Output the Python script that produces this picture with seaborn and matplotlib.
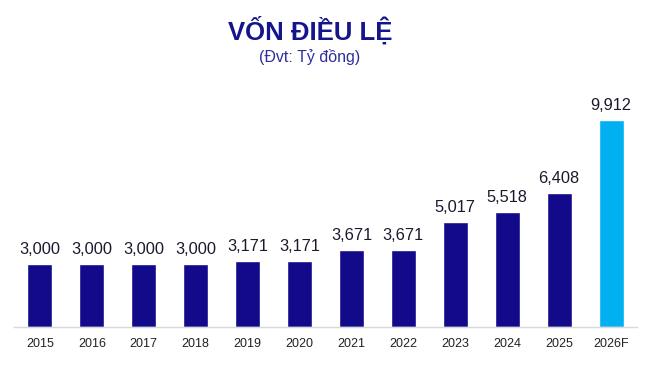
import matplotlib
matplotlib.use('Agg')
import matplotlib.pyplot as plt
import seaborn as sns
import pandas as pd

# Data
years = ['2015', '2016', '2017', '2018', '2019', '2020', '2021', '2022',
         '2023', '2024', '2025', '2026F']
capital = [3000, 3000, 3000, 3000, 3171, 3171, 3671, 3671, 5017, 5518, 6408, 9912]
kind = ['actual'] * 11 + ['forecast']

NAVY = '#12098B'
SKY = '#00B0F0'

df = pd.DataFrame({'year': years, 'capital': capital, 'kind': kind})

sns.set_theme(style='white')
plt.rcParams['font.family'] = ['Liberation Sans', 'DejaVu Sans']

fig = plt.figure(figsize=(6.52, 3.81), dpi=100)
W, H = 652, 381
ax_top = 100
ax_bottom = 327
ax = fig.add_axes([14 / W, 1 - ax_bottom / H, (637 - 14) / W, (ax_bottom - ax_top) / H])

sns.barplot(data=df, x='year', y='capital', hue='kind',
            palette={'actual': NAVY, 'forecast': SKY},
            width=0.48, dodge=False, legend=False, saturation=1, ax=ax)

for i, v in enumerate(capital):
    ax.text(i, v + 330, f'{v:,}', ha='center', va='bottom',
            fontsize=11.8, color='#1a1a2e')

ax.set_xlim(-0.5, len(years) - 0.5)
ax.set_ylim(0, (ax_bottom - ax_top) / 0.0209)
ax.set_xlabel('')
ax.set_ylabel('')
ax.set_yticks([])
ax.tick_params(axis='x', length=0, labelsize=9, colors='#222222', pad=8)
for s in ['top', 'right', 'left']:
    ax.spines[s].set_visible(False)
ax.spines['bottom'].set_color('#D9D9D9')
ax.spines['bottom'].set_linewidth(1)

fig.text(310 / W, 1 - 30 / H, 'VỐN ĐIỀU LỆ', ha='center', va='center',
         fontsize=18.5, fontweight='bold', color='#14148C')
fig.text(310 / W, 1 - 57 / H, '(Đvt: Tỷ đồng)', ha='center', va='center',
         fontsize=11.5, color='#2E2E9E')

plt.savefig('out.png', dpi=100)
plt.close()
